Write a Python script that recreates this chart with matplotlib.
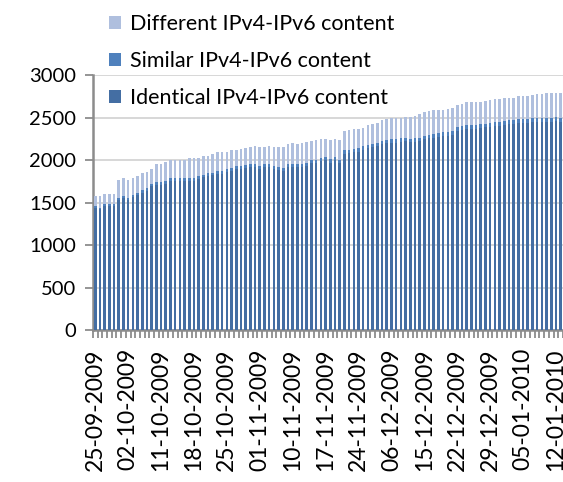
import matplotlib
matplotlib.use('Agg')
import matplotlib.pyplot as plt
import numpy as np
import pandas as pd

plt.rcParams['font.family'] = ['Lato', 'DejaVu Sans']

# daily snapshots; days with no measurement are left out
first_day = '2009-09-25'
last_day = '2010-01-13'
skipped_days = ['2009-10-05', '2009-10-08', '2009-11-04', '2009-11-07',
                '2009-11-27', '2009-11-28', '2009-11-29', '2009-11-30',
                '2009-12-01', '2009-12-09', '2009-12-12']

identical = [1440, 1420, 1458, 1458, 1458, 1530, 1550, 1530, 1570, 1590,
             1617, 1642, 1692, 1710, 1710, 1725, 1755, 1755, 1755, 1760,
             1760, 1755, 1778, 1798, 1813, 1823, 1838, 1838, 1866, 1876,
             1896, 1896, 1906, 1915, 1915, 1895, 1915, 1915, 1895, 1890,
             1870, 1914, 1919, 1919, 1924, 1929, 1962, 1967, 1992, 2002,
             1972, 1997, 1962, 2075, 2085, 2095, 2100, 2125, 2140, 2155,
             2165, 2188, 2198, 2203, 2208, 2218, 2223, 2213, 2218, 2223,
             2246, 2256, 2266, 2276, 2286, 2286, 2296, 2345, 2355, 2365,
             2365, 2370, 2375, 2385, 2394, 2399, 2404, 2414, 2424, 2429,
             2434, 2442, 2442, 2447, 2447, 2447, 2452, 2452, 2457, 2452]

similar = [20, 20, 22, 22, 22, 25, 25, 25, 25, 25,
           28, 28, 28, 30, 30, 30, 30, 30, 30, 30,
           30, 30, 32, 32, 32, 32, 32, 32, 34, 34,
           34, 34, 34, 35, 35, 35, 35, 35, 35, 35,
           35, 36, 36, 36, 36, 36, 38, 38, 38, 38,
           38, 38, 38, 40, 40, 40, 40, 40, 40, 40,
           40, 42, 42, 42, 42, 42, 42, 42, 42, 42,
           44, 44, 44, 44, 44, 44, 44, 45, 45, 45,
           45, 45, 45, 45, 46, 46, 46, 46, 46, 46,
           46, 48, 48, 48, 48, 48, 48, 48, 48, 48]

different = [115, 135, 125, 125, 125, 210, 215, 210, 195, 200,
             200, 190, 180, 215, 215, 225, 215, 215, 215, 215,
             230, 235, 210, 215, 200, 215, 225, 225, 200, 210,
             190, 205, 200, 210, 215, 220, 210, 215, 220, 230,
             255, 235, 245, 240, 245, 250, 220, 235, 220, 215,
             225, 220, 240, 230, 230, 230, 225, 210, 230, 230,
             230, 240, 240, 250, 250, 240, 240, 255, 265, 275,
             280, 280, 280, 270, 260, 270, 270, 265, 265, 270,
             275, 270, 265, 270, 270, 270, 275, 270, 260, 260,
             270, 265, 270, 275, 280, 285, 295, 295, 290, 295]

days = pd.date_range(first_day, last_day, freq='D')
days = days[~days.isin(pd.to_datetime(skipped_days))]
labels = days.strftime('%d-%m-%Y')

C_IDENT = '#446ea3'
C_SIM = '#4f81bd'
C_DIFF = '#afbfde'
GRID = '#d4d4d4'
AXIS = '#8c8c8c'

fig = plt.figure(figsize=(5.63, 4.82), dpi=100)
ax = fig.add_axes([0.165, 0.315, 0.835, 0.529])

x = np.arange(len(days))
ident = np.array(identical)
sim = np.array(similar)
diff = np.array(different)
w = 0.55
b1 = ax.bar(x, ident, width=w, color=C_IDENT, linewidth=0, zorder=3)
b2 = ax.bar(x, sim, width=w, bottom=ident, color=C_SIM, linewidth=0, zorder=3)
b3 = ax.bar(x, diff, width=w, bottom=ident + sim, color=C_DIFF, linewidth=0, zorder=3)

ax.set_xlim(-0.5, len(days) - 0.5)
ax.set_ylim(0, 3000)
ax.set_yticks(range(0, 3001, 500))
ax.yaxis.grid(True, color=GRID, lw=1.3, zorder=0)
ax.set_axisbelow(True)
for s in ('top', 'right'):
    ax.spines[s].set_visible(False)
for s in ('left', 'bottom'):
    ax.spines[s].set_color(AXIS)
    ax.spines[s].set_linewidth(1.8)

ax.tick_params(axis='y', length=6, width=1.3, color=AXIS, labelsize=14.5, pad=6)

# a label every seventh day, a tick between every pair of bars
ax.set_xticks(x[::7])
ax.set_xticklabels(labels[::7], rotation=90, fontsize=16.5)
ax.set_xticks(np.arange(len(days) + 1) - 0.5, minor=True)
ax.tick_params(axis='x', which='major', length=0, pad=13)
ax.tick_params(axis='x', which='minor', length=6, width=1.3, color=AXIS)

fig.legend([b3, b2, b1],
           ['Different IPv4-IPv6 content', 'Similar IPv4-IPv6 content',
            'Identical IPv4-IPv6 content'],
           loc='upper left', bbox_to_anchor=(0.178, 0.988), frameon=False,
           fontsize=15.5, handlelength=0.55, handleheight=0.55,
           handletextpad=0.45, labelspacing=0.78, borderaxespad=0)

fig.savefig('out.png', dpi=100)
